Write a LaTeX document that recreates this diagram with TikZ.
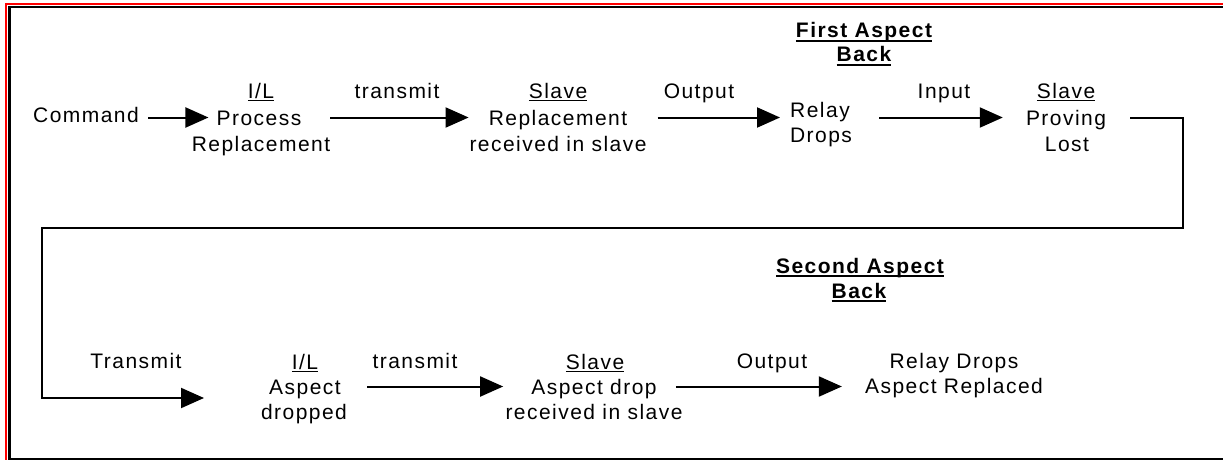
\documentclass[tikz,border=0pt]{standalone}
\usepackage{fontspec}
\setmainfont{Liberation Sans}[LetterSpace=7]
\usetikzlibrary{arrows.meta}

% underlined text: thin rule for step titles, heavy rule for aspect headings
\newcommand\ulthin[1]{\setbox0=\hbox{#1}\rlap{\rule[-3pt]{\wd0}{1pt}}\box0}
\newcommand\ulthick[1]{\setbox0=\hbox{\bfseries #1}\rlap{\rule[-3.6pt]{\wd0}{1.8pt}}\box0}

\tikzset{
  lbl/.style={inner sep=0pt, anchor=base, text height=15pt, text depth=0pt},
  flow/.style={line width=2pt, -{Triangle[length=23pt,width=20pt]}},
}

\begin{document}
\begin{tikzpicture}[x=1pt, y=-1pt, font=\fontsize{21}{26}\selectfont]
\useasboundingbox (0,0) rectangle (1223,460);

% double frame
\draw[red, line width=2.2pt] (6,461) -- (6,4.3) -- (1224,4.3);
\draw[black, line width=2.4pt] (1224,7.2) -- (9.5,7.2) -- (9.5,459) -- (1224,459);

% ---- first row ----
\node[lbl] (cmd)  at (86,122)  {Command};
\node[lbl] (il1t) at (261,98)  {\ulthin{I/L}};
\node[lbl] (il1a) at (259,125) {Process};
\node[lbl] (il1b) at (261,151) {Replacement};
\node[lbl] (tr1)  at (397,99)  {transmit};
\node[lbl] (sl1t) at (558,98)  {\ulthin{Slave}};
\node[lbl] (sl1a) at (558,125) {Replacement};
\node[lbl] (sl1b) at (558,151) {received in slave};
\node[lbl] (out1) at (699,99)  {Output};
\node[lbl] (rd1a) at (820,117) {Relay};
\node[lbl] (rd1b) at (821,142) {Drops};
\node[lbl] (fa1)  at (864,38)  {\ulthick{First Aspect}};
\node[lbl] (fa2)  at (864,62)  {\ulthick{Back}};
\node[lbl] (in1)  at (944,99)  {Input};
\node[lbl] (sp1t) at (1066,98) {\ulthin{Slave}};
\node[lbl] (sp1a) at (1066,125){Proving};
\node[lbl] (sp1b) at (1067,151){Lost};

% ---- second row ----
\node[lbl] (tr2)  at (136,368) {Transmit};
\node[lbl] (il2t) at (305,369) {\ulthin{I/L}};
\node[lbl] (il2a) at (305,394) {Aspect};
\node[lbl] (il2b) at (304,419) {dropped};
\node[lbl] (tr3)  at (415,368) {transmit};
\node[lbl] (sl2t) at (595,369) {\ulthin{Slave}};
\node[lbl] (sl2a) at (594,394) {Aspect drop};
\node[lbl] (sl2b) at (594,419) {received in slave};
\node[lbl] (out2) at (772,368) {Output};
\node[lbl] (rd2a) at (954,368) {Relay Drops};
\node[lbl] (rd2b) at (954,393) {Aspect Replaced};
\node[lbl] (sa1)  at (860,273) {\ulthick{Second Aspect}};
\node[lbl] (sa2)  at (859,298) {\ulthick{Back}};

% corners of the return line and its open end
\coordinate (turnA) at (1183,227.5);
\coordinate (turnB) at (42,398);
\coordinate (tEnd)  at (204,398);

% ---- connectors ----
\draw[flow] ([xshift=9pt]cmd.east |- il1a.west) -- ([xshift=-8pt]il1a.west);
\draw[flow] ([xshift=0pt]il1b.east |- il1a.west) -- ([xshift=-20pt]sl1a.west);
\draw[flow] ([xshift=11pt]sl1b.east |- sl1a.west) -- ([xshift=-10pt]rd1a.west |- sl1a.west);
\draw[flow] ([xshift=27pt]rd1b.east |- sp1a.west) -- ([xshift=-23pt]sp1a.west);
\draw[flow] ([xshift=24pt]sp1a.east) -| (turnA) -| (turnB) -- (tEnd);
\draw[flow] ([xshift=20pt]il2b.east |- il2a.west) -- ([xshift=-28pt]sl2a.west);
\draw[flow] ([xshift=19pt]sl2a.east) -- ([xshift=-23pt]rd2b.west |- sl2a.east);
\end{tikzpicture}
\end{document}
